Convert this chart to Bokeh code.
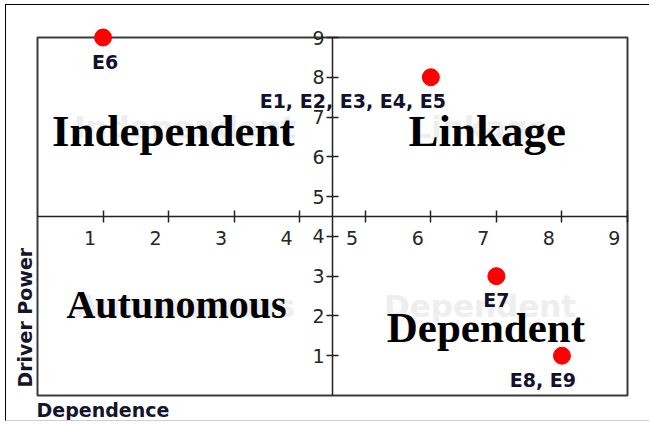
import math
from bokeh.plotting import figure
from bokeh.models import LinearAxis, FixedTicker, Range1d, Label, ColumnDataSource
from bokeh.core.properties import value
from bokeh.embed import file_html
from bokeh.resources import INLINE

# ---------------- data ----------------
point_labels = ["E6", "E1, E2, E3, E4, E5", "E7", "E8, E9"]
dependence = [1, 6, 7, 8]
driver_power = [9, 8, 3, 1]
x_ticks = [1, 2, 3, 4, 5, 6, 7, 8, 9]
y_ticks = [1, 2, 3, 4, 5, 6, 7, 8, 9]
quadrant_names = ["Independent", "Linkage", "Autunomous", "Dependent"]
x_title = "Dependence"
y_title = "Driver Power"
scale_min, scale_max, axis_mid = 0, 9, 4.5

# ---------------- layout (pixels on the canvas) ----------------
W, H = 644, 417
box_left, box_right, box_top, box_bottom = 31, 621, 32, 390
ppx = (box_right - box_left) / (scale_max - scale_min)
ppy = (box_bottom - box_top) / (scale_max - scale_min)
x_start = scale_min - box_left / ppx
x_end = scale_max + (W - box_right) / ppx
y_start = scale_min - (H - box_bottom) / ppy
y_end = scale_max + box_top / ppy

p = figure(width=W, height=H,
           x_range=Range1d(x_start, x_end), y_range=Range1d(y_start, y_end),
           x_axis_location=None, y_axis_location=None,
           toolbar_location=None, output_backend="svg", min_border=0)
p.xgrid.visible = False
p.ygrid.visible = False
p.outline_line_color = None
p.background_fill_color = "white"
p.border_fill_color = "white"
p.styles = {"margin-left": "5px", "margin-top": "4px",
            "border-top": "1px solid #000", "border-left": "1px solid #000",
            "border-bottom": "1px solid #d0d0d0"}

# chart box
p.quad(left=[scale_min], right=[scale_max], bottom=[scale_min], top=[scale_max],
       fill_color=None, line_color="#3a3a3a", line_width=2)

# faint original quadrant captions (centered in each quadrant)
qx = [(scale_min + axis_mid) / 2, (axis_mid + scale_max) / 2]
qy = [(axis_mid + scale_max) / 2, (scale_min + axis_mid) / 2]
ghost = ColumnDataSource(dict(x=[qx[0], qx[1], qx[0], qx[1]],
                              y=[qy[0], qy[0], qy[1], qy[1]],
                              t=quadrant_names))
p.text("x", "y", text="t", source=ghost, text_font=value("DejaVu Sans"),
       text_font_style="bold", text_font_size="31px", text_color="#eeeeee",
       text_align="center", text_baseline="middle")

# overlaid serif quadrant captions
cap = ColumnDataSource(dict(x=[2.07, 6.86, 2.12, 6.84],
                            y=[6.64, 6.65, 2.30, 1.70],
                            t=quadrant_names,
                            fs=["45px", "45px", "40px", "43px"]))
p.text("x", "y", text="t", source=cap, text_font=value("Liberation Serif"),
       text_font_style="bold", text_font_size="fs", text_color="#000000",
       text_align="center", text_baseline="middle")

# points
pts = ColumnDataSource(dict(x=dependence, y=driver_power, t=point_labels,
                            dx=[2, -78, 0, -19]))
p.scatter("x", "y", source=pts, size=17, fill_color="#ff0000", line_color="#ff0000")
lbl = p.text("x", "y", text="t", source=pts, x_offset="dx", y_offset=24,
             text_font=value("DejaVu Sans"), text_font_style="bold",
             text_font_size="19px", text_color="#12122e",
             text_align="center", text_baseline="middle")
lbl.level = "overlay"

# axes crossing in the middle
tick_font = "DejaVu Sans"
xaxis = LinearAxis(fixed_location=axis_mid, ticker=FixedTicker(ticks=x_ticks),
                   bounds=(scale_min, scale_max),
                   major_tick_in=6, major_tick_out=6, minor_tick_line_color=None,
                   major_label_text_color=None, axis_line_color="#222222",
                   axis_line_width=1.5, major_tick_line_color="#222222",
                   major_tick_line_width=1.5)
p.add_layout(xaxis, "below")

p.extra_x_ranges = {"xlab": Range1d(x_start + 0.2, x_end + 0.2)}
xlab = LinearAxis(x_range_name="xlab", fixed_location=axis_mid,
                  ticker=FixedTicker(ticks=x_ticks), axis_line_color=None,
                  major_tick_line_color=None, minor_tick_line_color=None,
                  major_tick_in=0, major_tick_out=0, major_label_standoff=14,
                  major_label_text_font=tick_font, major_label_text_font_size="19px",
                  major_label_text_color="#262626")
p.add_layout(xlab, "below")

yaxis = LinearAxis(fixed_location=axis_mid, ticker=FixedTicker(ticks=y_ticks),
                   bounds=(scale_min, scale_max),
                   major_tick_in=6, major_tick_out=6, minor_tick_line_color=None,
                   major_label_standoff=2, major_label_text_font=tick_font,
                   major_label_text_font_size="19px", major_label_text_color="#262626",
                   axis_line_color="#222222", axis_line_width=1.5,
                   major_tick_line_color="#222222", major_tick_line_width=1.5)
p.add_layout(yaxis, "left")

# axis titles
p.add_layout(Label(x=-0.015, y=-0.365, text=x_title, text_font="DejaVu Sans",
                   text_font_style="bold", text_font_size="19px", text_color="#14142b",
                   text_align="left", text_baseline="middle"))
p.add_layout(Label(x=-0.198, y=0.2, text=y_title, angle=math.pi / 2,
                   text_font="DejaVu Sans", text_font_style="bold",
                   text_font_size="19px", text_color="#14142b",
                   text_align="left", text_baseline="middle"))

open("out.html", "w").write(file_html(p, INLINE))
